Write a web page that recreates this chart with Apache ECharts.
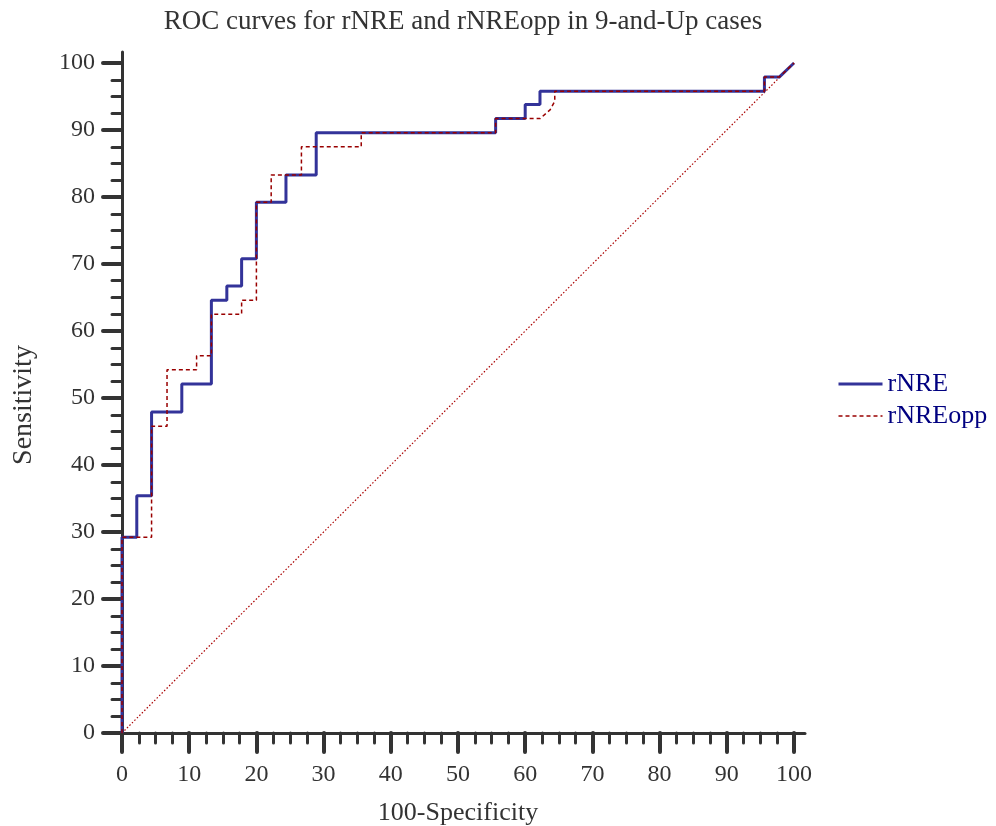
<!DOCTYPE html>
<html>
<head>
<meta charset="utf-8">
<script src="https://cdn.jsdelivr.net/npm/echarts@6/dist/echarts.min.js"></script>
<style>
html,body{margin:0;padding:0;background:#fff;}
#chart{width:996px;height:826px;}
</style>
</head>
<body>
<div id="chart"></div>
<script>
// ROC corner points (100-Specificity, Sensitivity)
const rNRE_x = [0, 0, 2.2, 2.2, 4.4, 4.4, 8.9, 8.9, 13.3, 13.3, 15.6, 15.6, 17.8, 17.8, 20, 20, 24.4, 24.4, 28.9, 28.9, 55.6, 55.6, 60, 60, 62.2, 62.2, 95.6, 95.6, 97.8, 100];
const rNRE_y = [0, 29.2, 29.2, 35.4, 35.4, 47.9, 47.9, 52.1, 52.1, 64.6, 64.6, 66.7, 66.7, 70.8, 70.8, 79.2, 79.2, 83.3, 83.3, 89.6, 89.6, 91.7, 91.7, 93.8, 93.8, 95.8, 95.8, 97.9, 97.9, 100];
const rNREopp_x = [0, 0, 4.4, 4.4, 6.7, 6.7, 11.1, 11.1, 13.3, 13.3, 17.8, 17.8, 20, 20, 22.2, 22.2, 26.7, 26.7, 35.6, 35.6, 55.6, 55.6, 62.2, 63.7, 64.4, 64.4, 95.6, 95.6, 97.8, 100];
const rNREopp_y = [0, 29.2, 29.2, 45.8, 45.8, 54.2, 54.2, 56.3, 56.3, 62.5, 62.5, 64.6, 64.6, 79.2, 79.2, 83.3, 83.3, 87.5, 87.5, 89.6, 89.6, 91.7, 91.7, 93.0, 94.3, 95.8, 95.8, 97.9, 97.9, 100];
const diag_x = [0, 100];
const diag_y = [0, 100];
const seriesNames = ['rNRE', 'rNREopp'];
const titleText = 'ROC curves for rNRE and rNREopp in 9-and-Up cases';

const zip = (xs, ys) => xs.map((x, i) => [x, ys[i]]);
const FONT = '"Liberation Serif", "DejaVu Serif", serif';
const AX = '#333333';

const chart = echarts.init(document.getElementById('chart'), null, {renderer: 'canvas'});
const valueAxisCommon = {
  type: 'value', min: 0, max: 100, interval: 10,
  axisLine: {show: false},
  splitLine: {show: false},
  axisTick: {show: true, inside: false, length: 19, lineStyle: {color: AX, width: 4, cap: 'round'}},
  minorTick: {show: true, splitNumber: 4, length: 10, lineStyle: {color: AX, width: 3, cap: 'round'}},
  axisLabel: {color: AX, fontFamily: FONT, fontSize: 24}
};
const lineAxis = {
  type: 'value', min: 0, max: 101.6,
  axisLine: {show: true, lineStyle: {color: AX, width: 3}},
  axisTick: {show: false}, axisLabel: {show: false}, splitLine: {show: false}
};

chart.setOption({
  backgroundColor: '#fff',
  animation: false,
  title: {
    text: titleText, left: 458, textAlign: 'center', top: 3,
    textStyle: {fontFamily: FONT, fontSize: 27, fontWeight: 'normal', color: AX}
  },
  legend: {
    data: seriesNames, orient: 'vertical', left: 832, top: 366,
    itemWidth: 44, itemHeight: 14, itemGap: 6,
    itemStyle: {opacity: 0, color: 'rgba(0,0,0,0)', borderWidth: 0},
    lineStyle: {width: 'inherit'},
    textStyle: {fontFamily: FONT, fontSize: 26, color: '#000080'}
  },
  grid: [
    {left: 122, top: 63, width: 672, height: 670, containLabel: false, outerBoundsMode: 'none'},
    {left: 122, top: 52, width: 683, height: 681, containLabel: false, outerBoundsMode: 'none'}
  ],
  xAxis: [
    Object.assign({}, valueAxisCommon, {gridIndex: 0, name: '100-Specificity', nameLocation: 'middle', nameGap: 67,
      nameTextStyle: {color: AX, fontFamily: FONT, fontSize: 26},
      axisLabel: Object.assign({}, valueAxisCommon.axisLabel, {margin: 30})}),
    Object.assign({}, lineAxis, {gridIndex: 1})
  ],
  yAxis: [
    Object.assign({}, valueAxisCommon, {gridIndex: 0, name: 'Sensitivity', nameLocation: 'middle', nameGap: 84,
      nameTextStyle: {color: AX, fontFamily: FONT, fontSize: 28, padding: [0, 14, 0, 0]},
      axisLabel: Object.assign({}, valueAxisCommon.axisLabel, {margin: 27})}),
    Object.assign({}, lineAxis, {gridIndex: 1})
  ],
  series: [
    {type: 'line', name: 'diag', data: zip(diag_x, diag_y), symbol: 'none', clip: false, silent: true,
      lineStyle: {color: '#aa0000', width: 1.2, type: [1.5, 2]}, z: 1},
    {type: 'line', name: seriesNames[0], data: zip(rNRE_x, rNRE_y), symbol: 'none', clip: false,
      lineStyle: {color: '#333399', width: 3}, itemStyle: {color: '#333399'}, z: 2},
    {type: 'line', name: seriesNames[1], data: zip(rNREopp_x, rNREopp_y), symbol: 'none', clip: false,
      lineStyle: {color: '#990000', width: 1.5, type: [4, 3]}, itemStyle: {color: '#990000'}, z: 3}
  ]
});
</script>
</body>
</html>
